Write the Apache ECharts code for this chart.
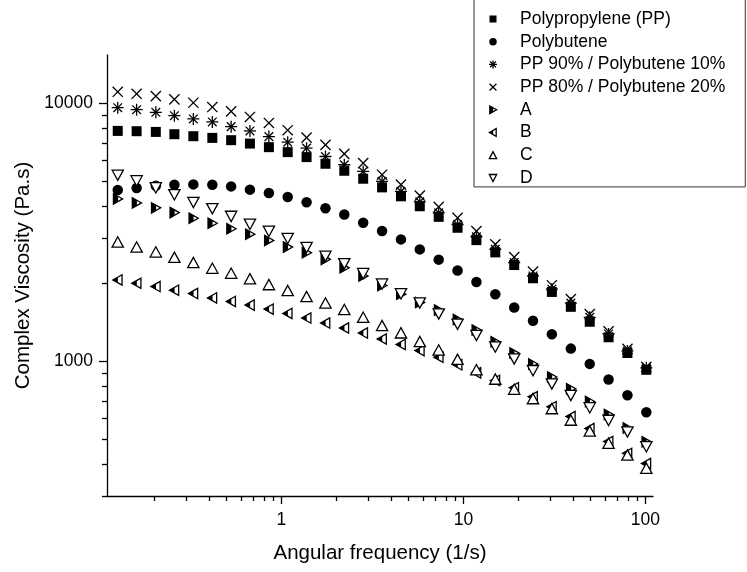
<!DOCTYPE html>
<html><head><meta charset="utf-8">
<script src="https://cdn.jsdelivr.net/npm/echarts@6/dist/echarts.min.js"></script>
<style>html,body{margin:0;padding:0;background:#fff}#c{width:747px;height:572px}</style>
</head><body><div id="c"></div>
<script>
// ---- data ----
const freq = [0.126,0.160,0.204,0.258,0.328,0.417,0.529,0.671,0.853,1.082,1.374,1.745,2.214,2.812,3.570,4.535,5.754,7.31,9.28,11.78,14.96,19.0,24.1,30.6,38.9,49.4,62.7,79.6,101.1];
const seriesNames = ['Polypropylene (PP)','Polybutene','PP 90% / Polybutene 10%','PP 80% / Polybutene 20%','A','B','C','D'];
const ppValues   = [7818,7797,7748,7591,7457,7345,7197,6982,6762,6468,6187,5830,5477,5101,4722,4359,3989,3629,3292,2948,2642,2360,2097,1856,1625,1422,1238,1076,926];
const pbValues   = [4614,4697,4794,4837,4850,4837,4764,4627,4492,4336,4133,3918,3704,3441,3199,2967,2714,2476,2246,2029,1819,1616,1435,1272,1119,976,849,738,634];
const pp90Values = [9617,9447,9232,8956,8698,8469,8123,7818,7430,7070,6703,6220,5779,5443,4981,4557,4148,3761,3390,3038,2714,2411,2141,1902,1680,1479,1275,1096,942];
const pp80Values = [11086,10892,10671,10361,10053,9676,9313,8854,8394,7866,7366,6902,6371,5866,5287,4837,4386,3967,3597,3193,2838,2534,2226,1970,1740,1523,1306,1116,951];
const aValues    = [4259,4111,3932,3770,3584,3428,3262,3109,2940,2770,2635,2483,2302,2141,1965,1819,1690,1578,1450,1321,1190,1076,976,868,782,698,621,551,487];
const bValues    = [2066,2006,1948,1885,1830,1760,1705,1650,1592,1532,1470,1406,1345,1286,1219,1161,1099,1036,968,901,842,789,728,666,610,548,488,439,401];
const cValues    = [2896,2770,2650,2527,2411,2292,2192,2084,1979,1877,1779,1680,1585,1479,1373,1286,1190,1104,1016,926,851,778,715,654,590,535,480,432,384];
const dValues    = [5272,5012,4710,4425,4133,3907,3649,3399,3193,2993,2763,2557,2390,2189,1993,1827,1684,1527,1393,1260,1136,1021,920,817,737,660,590,532,466];
const xMajorTicks = [1,10,100];
const xMinorTicks = [0.2,0.3,0.4,0.5,0.6,0.7,0.8,0.9,2,3,4,5,6,7,8,9,20,30,40,50,60,70,80,90];
const yMajorTicks = [1000,10000];
const yMinorTicks = [300,400,500,600,700,800,900,2000,3000,4000,5000,6000,7000,8000,9000];

const allValues = [ppValues,pbValues,pp90Values,pp80Values,aValues,bValues,cValues,dValues];
const kinds = ['square','circle','star','cross','triRight','triLeft','triUp','triDown'];
const plotSizes = [10,10.5,12,12,11.5,11.5,12.5,12.5];
const legendSizes = [7,7.5,8,8,8.5,8.5,8.5,8.5];

const FONT = 'Liberation Sans, Arial, Helvetica, sans-serif';

function shape(kind, cx, cy, s) {
  const h = s/2, sw = 1.3;
  const L = (x1,y1,x2,y2) => `<line x1="${x1}" y1="${y1}" x2="${x2}" y2="${y2}" stroke="#000" stroke-width="${sw}"/>`;
  const P = (pts, fill) => `<polygon points="${pts.map(p=>p[0].toFixed(2)+','+p[1].toFixed(2)).join(' ')}" fill="${fill}" stroke="${fill==='#000'?'none':'#000'}" stroke-width="${sw}" stroke-linejoin="miter"/>`;
  switch (kind) {
    case 'square': return `<rect x="${cx-h}" y="${cy-h}" width="${s}" height="${s}" fill="#000"/>`;
    case 'circle': return `<circle cx="${cx}" cy="${cy}" r="${h}" fill="#000"/>`;
    case 'star': { const d = h*0.72; return L(cx-h,cy,cx+h,cy)+L(cx,cy-h,cx,cy+h)+L(cx-d,cy-d,cx+d,cy+d)+L(cx-d,cy+d,cx+d,cy-d); }
    case 'cross': { const d = h*0.85; return L(cx-d,cy-d,cx+d,cy+d)+L(cx-d,cy+d,cx+d,cy-d); }
    case 'triUp': return P([[cx-h+0.6,cy+h*0.8],[cx,cy-h*0.85],[cx+h-0.6,cy+h*0.8]],'#fff');
    case 'triDown': return P([[cx-h+0.6,cy-h*0.8],[cx,cy+h*0.85],[cx+h-0.6,cy-h*0.8]],'#fff');
    case 'triRight': {
      const x0 = cx-h*0.75, x1 = cx+h*0.85, t = 0.5, xm = x0+(x1-x0)*t, yy = h*0.9*(1-t);
      return P([[x0,cy-h*0.9],[x1,cy],[x0,cy+h*0.9]],'#fff') + P([[x0,cy-h*0.9],[xm,cy-yy],[xm,cy+yy],[x0,cy+h*0.9]],'#000');
    }
    case 'triLeft': {
      const x0 = cx+h*0.75, x1 = cx-h*0.85, t = 0.55, xm = x1+(x0-x1)*t, yy = h*0.9*t;
      return P([[x0,cy-h*0.9],[x1,cy],[x0,cy+h*0.9]],'#fff') + P([[x1,cy],[xm,cy-yy],[xm,cy+yy]],'#000');
    }
  }
}
function svgImage(w, h, body) {
  const svg = `<svg xmlns="http://www.w3.org/2000/svg" width="${w}" height="${h}" viewBox="0 0 ${w} ${h}">${body}</svg>`;
  return 'image://data:image/svg+xml;charset=utf-8,' + encodeURIComponent(svg);
}

const series = seriesNames.map((name, k) => {
  const S = Math.ceil(plotSizes[k]) + 2;
  const native = kinds[k] === 'square' ? 'rect' : (kinds[k] === 'circle' ? 'circle' : null);
  return {
    name, type: 'scatter', xAxisIndex: 0, yAxisIndex: 0,
    symbol: native || svgImage(S, S, shape(kinds[k], S/2, S/2, plotSizes[k])),
    symbolSize: native ? plotSizes[k] : [S, S],
    itemStyle: { color: '#000', opacity: 1 },
    data: freq.map((f, i) => [f, allValues[k][i]]),
    emphasis: { disabled: true },
    z: 2 + k
  };
});
const legendData = seriesNames.map((name, k) => ({
  name,
  icon: svgImage(32, 14, shape(kinds[k], 10, 7, legendSizes[k]))
}));

const labelStyle = { color: '#000', fontSize: 17.5, fontFamily: FONT };
const nameStyle = { color: '#000', fontSize: 20.5, fontFamily: FONT };
const axisLineStyle = { color: '#000', width: 1.3 };
const fmt = v => String(Math.round(v));

const chart = echarts.init(document.getElementById('c'), null, { renderer: 'canvas' });
chart.setOption({
  animation: false,
  backgroundColor: '#fff',
  grid: { left: 107, right: 94, top: 55, bottom: 76, containLabel: false },
  legend: {
    orient: 'vertical', left: 474, top: -2,
    padding: [12, 20, 0, 9],
    itemWidth: 32, itemHeight: 14, itemGap: 4.7,
    borderColor: '#333', borderWidth: 1, backgroundColor: '#fff',
    textStyle: { color: '#000', fontSize: 17.5, fontFamily: FONT },
    selectedMode: false,
    data: legendData
  },
  xAxis: [
    { type: 'log', logBase: 10, min: 0.11, max: 110, position: 'bottom',
      axisLine: { show: true, lineStyle: axisLineStyle },
      axisTick: { show: true, inside: false, length: 8, lineStyle: axisLineStyle, customValues: xMajorTicks },
      axisLabel: { show: true, customValues: xMajorTicks, formatter: fmt, margin: 15, ...labelStyle },
      splitLine: { show: false }, minorTick: { show: false },
      name: 'Angular frequency (1/s)', nameLocation: 'middle', nameGap: 47, nameTextStyle: nameStyle },
    { type: 'log', logBase: 10, min: 0.11, max: 110, position: 'bottom', gridIndex: 0,
      axisLine: { show: false },
      axisTick: { show: true, inside: false, length: 5, lineStyle: axisLineStyle, customValues: xMinorTicks },
      axisLabel: { show: false }, splitLine: { show: false } }
  ],
  yAxis: [
    { type: 'log', logBase: 10, min: 300, max: 15400, position: 'left',
      axisLine: { show: true, lineStyle: axisLineStyle },
      axisTick: { show: true, inside: false, length: 8, lineStyle: axisLineStyle, customValues: yMajorTicks },
      axisLabel: { show: true, customValues: yMajorTicks, formatter: fmt, margin: 14, ...labelStyle },
      splitLine: { show: false }, minorTick: { show: false },
      name: 'Complex Viscosity (Pa.s)', nameLocation: 'middle', nameGap: 73, nameTextStyle: nameStyle },
    { type: 'log', logBase: 10, min: 300, max: 15400, position: 'left', gridIndex: 0,
      axisLine: { show: false },
      axisTick: { show: true, inside: false, length: 5, lineStyle: axisLineStyle, customValues: yMinorTicks },
      axisLabel: { show: false }, splitLine: { show: false } }
  ],
  series
});
</script></body></html>
